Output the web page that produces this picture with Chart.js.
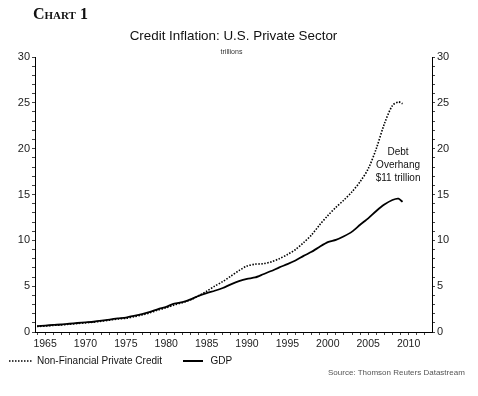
<!DOCTYPE html>
<html>
<head>
<meta charset="utf-8">
<script src="https://cdn.jsdelivr.net/npm/chart.js@4.4.1/dist/chart.umd.min.js"></script>
<style>
    body { margin: 0; background: #fff; }
    #wrap { position: relative; width: 478px; height: 396px; overflow: hidden; font-family: "Liberation Sans", Arial, sans-serif; color: #111; }
    #chart { position: absolute; left: 0; top: 0; }
    .txt { position: absolute; white-space: nowrap; }
    #head { left: 33px; top: 5px; font: bold 16px/18px "Liberation Serif", "Times New Roman", serif; font-variant: small-caps; }
    #title { left: 0; width: 467px; top: 28px; text-align: center; font-size: 13.4px; line-height: 15px; }
    #unit { left: 0; width: 463px; top: 48px; text-align: center; font-size: 7px; line-height: 8px; color: #333; }
    .leg { top: 355px; font-size: 10px; line-height: 12px; }
    #source { left: 328px; top: 367.5px; font-size: 8px; line-height: 10px; color: #555; }
    svg { position: absolute; left: 0; top: 0; }
</style>
</head>
<body>
<div id="wrap">
    <canvas id="chart" width="478" height="396"></canvas>
    <div class="txt" id="head">Chart 1</div>
    <div class="txt" id="title">Credit Inflation: U.S. Private Sector</div>
    <div class="txt" id="unit">trillions</div>
    <svg width="478" height="396">
        <line x1="9" y1="361" x2="32" y2="361" stroke="#000" stroke-width="1.6" stroke-dasharray="1.5 1.5"></line>
        <line x1="183" y1="361" x2="203" y2="361" stroke="#000" stroke-width="2"></line>
    </svg>
    <div class="txt leg" style="left:37px">Non-Financial Private Credit</div>
    <div class="txt leg" style="left:210.5px">GDP</div>
    <div class="txt" id="source">Source: Thomson Reuters Datastream</div>
</div>
<script>
const years = [1964, 1965, 1966, 1967, 1968, 1969, 1970, 1971, 1972, 1973,
    1974, 1975, 1976, 1977, 1978, 1979, 1980, 1981, 1982, 1983,
    1984, 1985, 1986, 1987, 1988, 1989, 1990, 1991, 1992, 1993,
    1994, 1995, 1996, 1997, 1998, 1999, 2000, 2001, 2002, 2003,
    2004, 2005, 2006, 2007, 2008, 2008.75, 2009.25];

// trillions of dollars
const credit = [0.6, 0.65, 0.72, 0.77, 0.85, 0.93, 1.0, 1.07, 1.18, 1.3,
    1.42, 1.5, 1.66, 1.86, 2.1, 2.4, 2.65, 2.95, 3.2, 3.5,
    3.95, 4.45, 5.0, 5.5, 6.1, 6.7, 7.2, 7.4, 7.45, 7.65,
    8.0, 8.45, 9.0, 9.75, 10.6, 11.7, 12.7, 13.6, 14.4, 15.3,
    16.4, 17.8, 20.0, 22.7, 24.7, 25.1, 24.9];

const gdp = [0.65, 0.7, 0.77, 0.82, 0.9, 0.98, 1.05, 1.12, 1.23, 1.36,
    1.48, 1.58, 1.76, 1.96, 2.2, 2.5, 2.75, 3.1, 3.25, 3.55,
    3.95, 4.25, 4.5, 4.8, 5.2, 5.55, 5.8, 5.95, 6.3, 6.65,
    7.05, 7.4, 7.8, 8.3, 8.75, 9.3, 9.8, 10.05, 10.45, 10.95,
    11.7, 12.4, 13.2, 13.9, 14.4, 14.55, 14.2];

const xTicks = [];
for (let y = 1964; y <= 2012; y++) xTicks.push(y);
const yTicks = [];
for (let v = 0; v <= 30; v++) yTicks.push(v);

const note = ["Debt", "Overhang", "$11 trillion"];
const noteAt = { x: 2008.7, y: 19.6 };

function points(values) {
    return years.map((yr, i) => ({ x: yr, y: values[i] }));
}

function setTicks(list) {
    return function (scale) {
        scale.ticks = list.map(v => ({ value: v }));
    };
}

function fiveLabel(value) {
    return value % 5 === 0 ? String(value) : "";
}

const notePlugin = {
    id: "note",
    afterDatasetsDraw(chart) {
        const ctx = chart.ctx;
        const x = chart.scales.x.getPixelForValue(noteAt.x);
        const y = chart.scales.y.getPixelForValue(noteAt.y);
        ctx.save();
        ctx.font = '10px "Liberation Sans", Arial, sans-serif';
        ctx.fillStyle = "#111";
        ctx.textAlign = "center";
        ctx.textBaseline = "middle";
        note.forEach((line, i) => ctx.fillText(line, x, y + i * 13));
        ctx.restore();
    }
};

const tickFont = { family: '"Liberation Sans", Arial, sans-serif', size: 11 };

const chart = new Chart(document.getElementById("chart"), {
    type: "line",
    data: {
        datasets: [{
            label: "Non-Financial Private Credit",
            data: points(credit),
            borderColor: "#000",
            borderWidth: 1.6,
            borderDash: [1.5, 1.5],
            pointRadius: 0,
            tension: 0.3,
            fill: false
        }, {
            label: "GDP",
            data: points(gdp),
            borderColor: "#000",
            borderWidth: 1.8,
            pointRadius: 0,
            tension: 0.2,
            fill: false
        }]
    },
    options: {
        responsive: false,
        animation: false,
        layout: { padding: { top: 57, left: 0, right: 0, bottom: 44 } },
        plugins: { legend: { display: false }, tooltip: { enabled: false } },
        scales: {
            x: {
                type: "linear",
                min: 1963.75,
                max: 2012.9,
                afterBuildTicks: setTicks(xTicks),
                afterFit(scale) { scale.height = 20; },
                grid: { drawOnChartArea: false, tickLength: 3, color: "#444" },
                border: { display: true, color: "#000", width: 1 },
                ticks: { autoSkip: false, maxRotation: 0, padding: 3, color: "#222",
                    font: { ...tickFont, size: 10.5 }, callback: fiveLabel }
            },
            y: {
                position: "left",
                min: 0,
                max: 30,
                afterBuildTicks: setTicks(yTicks),
                afterFit(scale) { scale.width = 35; },
                grid: { drawOnChartArea: false, tickLength: 3, color: "#444" },
                border: { display: true, color: "#000", width: 1 },
                ticks: { autoSkip: false, padding: 2, color: "#222", font: tickFont, callback: fiveLabel }
            },
            y2: {
                position: "right",
                min: 0,
                max: 30,
                afterBuildTicks: setTicks(yTicks),
                afterFit(scale) { scale.width = 46; },
                grid: { drawOnChartArea: false, tickLength: 3, color: "#444" },
                border: { display: true, color: "#000", width: 1 },
                ticks: { autoSkip: false, padding: 2, color: "#222", font: tickFont, callback: fiveLabel }
            }
        }
    },
    plugins: [notePlugin]
});
</script>
</body>
</html>
